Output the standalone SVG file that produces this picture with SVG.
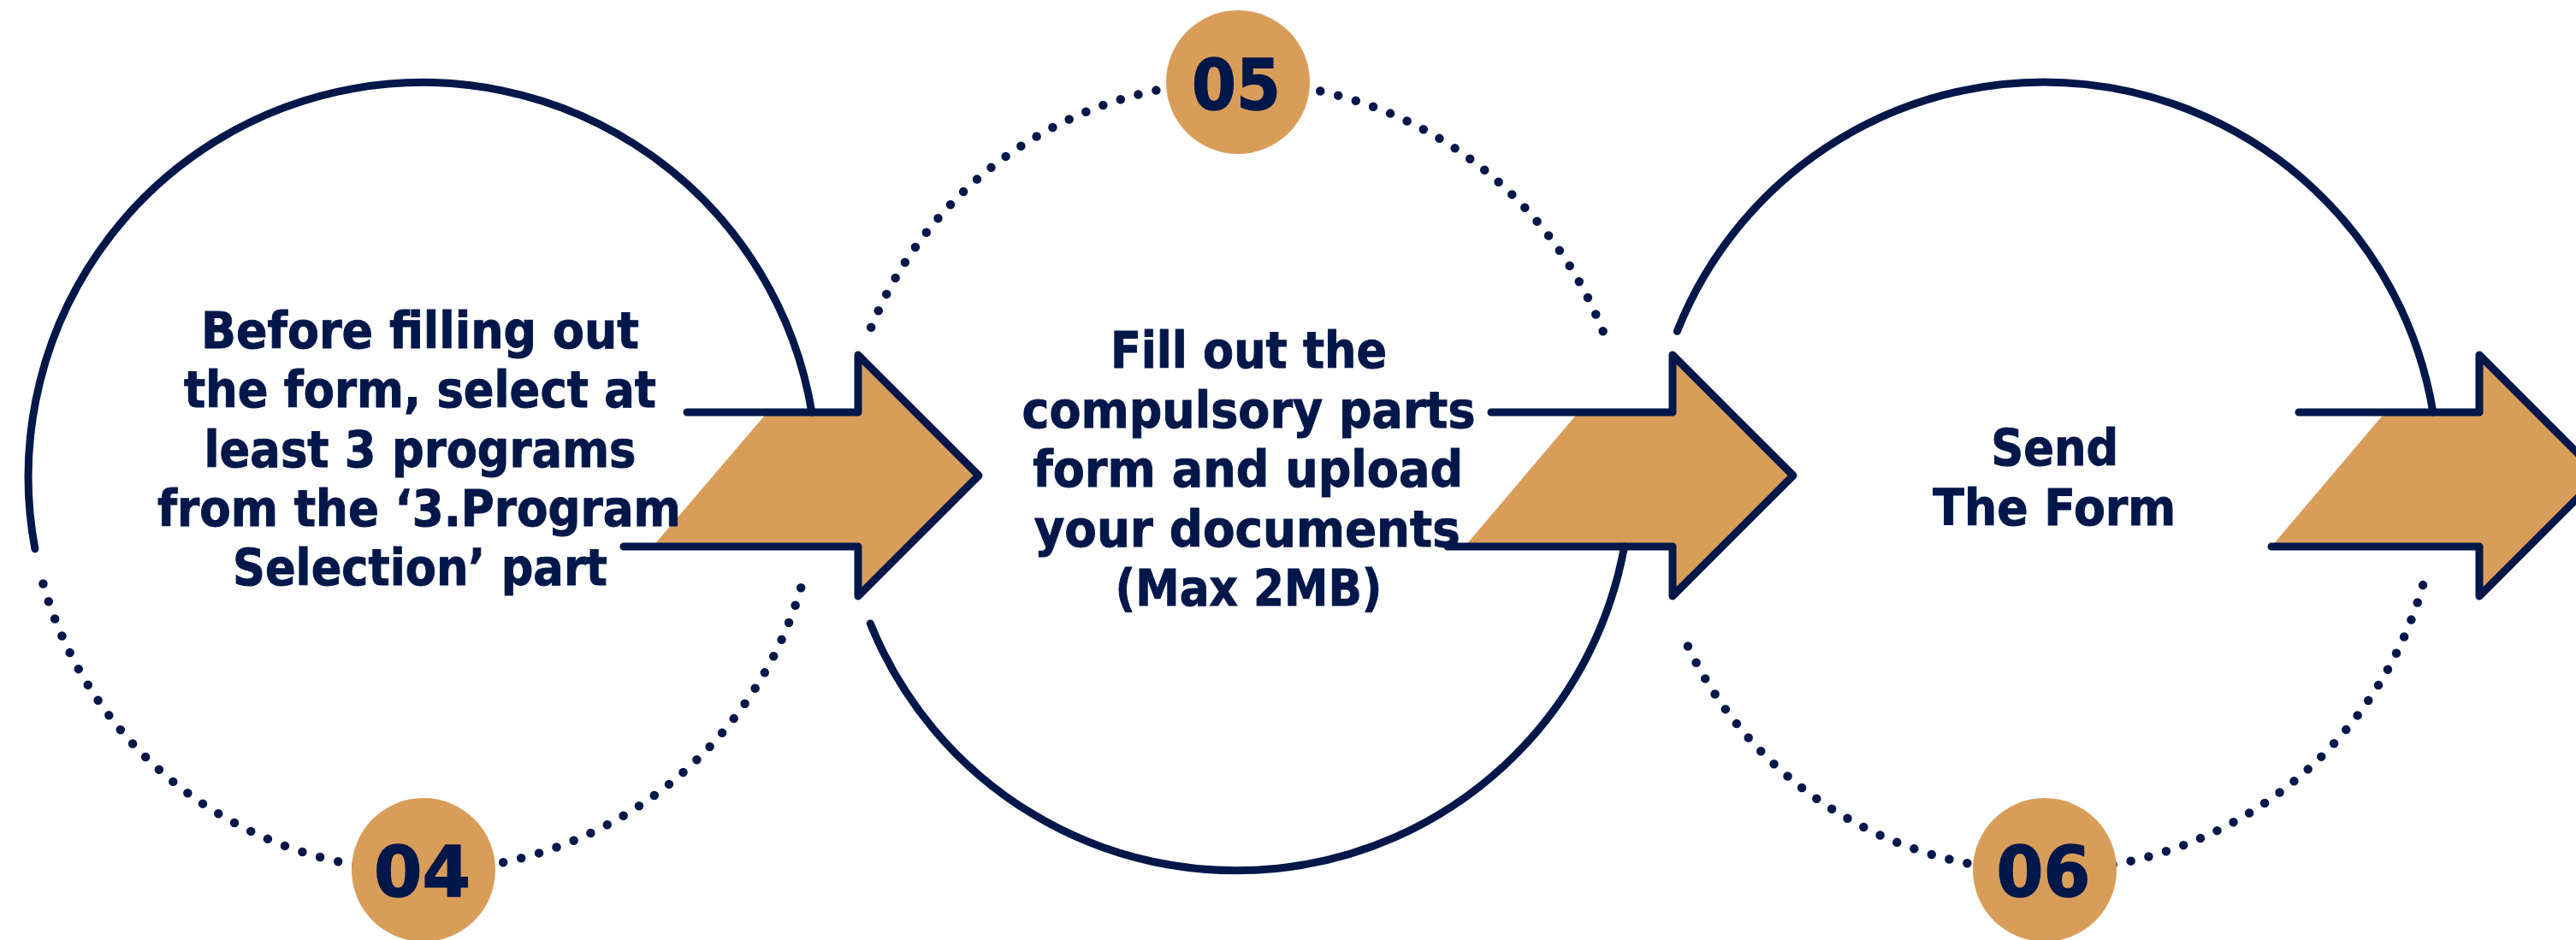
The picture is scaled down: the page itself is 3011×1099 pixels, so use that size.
<svg xmlns="http://www.w3.org/2000/svg" width="3011" height="1099" viewBox="0 0 3011 1099">
<style>
.solid{fill:none;stroke:#00174A;stroke-width:9;stroke-linecap:round}
.dots{fill:none;stroke:#00174A;stroke-width:10.5;stroke-linecap:round}
.afill{fill:#D99D5A;stroke:none}
.aline{fill:none;stroke:#00174A;stroke-width:9;stroke-linecap:round;stroke-linejoin:round}
.badge{fill:#D99D5A}
.num{font-family:"DejaVu Sans","Liberation Sans",sans-serif;font-weight:700;font-size:82px;fill:#00174A;stroke:#00174A;stroke-width:1.5;text-anchor:middle}
.txt{font-family:"DejaVu Sans","Liberation Sans",sans-serif;font-weight:700;font-size:58px;fill:#00174A;stroke:#00174A;stroke-width:1;text-anchor:middle}
</style>
<rect width="3011" height="1099" fill="#FFFFFF"/>
<g id="connectors">
  <polygon class="afill" points="897,482 1003,482 1003,415 1144,556 1003,697 1003,639 763,639"/>
  <polyline class="aline" points="803,482 1003,482 1003,415 1144,556 1003,697 1003,639 729,639"/>
  <polygon class="afill" points="1845,482 1955,482 1955,415 2096,556 1955,697 1955,639 1712,639"/>
  <polyline class="aline" points="1743,482 1955,482 1955,415 2096,556 1955,697 1955,639 1692,639"/>
  <polygon class="afill" points="2788,482 2898,482 2898,415 3039,556 2898,697 2898,639 2655,639"/>
  <polyline class="aline" points="2687,482 2898,482 2898,415 3039,556 2898,697 2898,639 2655,639"/>
</g>
<g id="step04">
  <path class="solid" d="M40.9,641.8 A461,461 0 1 1 948.9,482"/>
  <path class="dots" stroke-dasharray="0 21.61" d="M936.2,687.2 A461,461 0 0 1 45.2,662.3"/>
  <circle class="badge" cx="495" cy="1017" r="84"/>
  <text class="num" x="493.5" y="1048" textLength="113" lengthAdjust="spacingAndGlyphs">04</text>
  <text class="txt" x="491" y="407" textLength="512" lengthAdjust="spacingAndGlyphs">Before filling out</text>
  <text class="txt" x="491" y="476.3" textLength="552" lengthAdjust="spacingAndGlyphs">the form, select at</text>
  <text class="txt" x="491" y="545.6" textLength="505" lengthAdjust="spacingAndGlyphs">least 3 programs</text>
  <text class="txt" x="490" y="614.9" textLength="612" lengthAdjust="spacingAndGlyphs">from the ‘3.Program</text>
  <text class="txt" x="491" y="684.2" textLength="438" lengthAdjust="spacingAndGlyphs">Selection’ part</text>
</g>
<g id="step05">
  <path class="dots" stroke-dasharray="0 21.48" d="M1018.2,382.8 A461,461 0 0 1 1880.9,406.9"/>
  <path class="solid" d="M1898.6,639 A461,461 0 0 1 1017.3,728.9"/>
  <circle class="badge" cx="1447" cy="96" r="84"/>
  <text class="num" x="1445" y="128" textLength="104" lengthAdjust="spacingAndGlyphs">05</text>
  <text class="txt" x="1459.5" y="430" textLength="323" lengthAdjust="spacingAndGlyphs">Fill out the</text>
  <text class="txt" x="1459.5" y="499.5" textLength="530" lengthAdjust="spacingAndGlyphs">compulsory parts</text>
  <text class="txt" x="1458.7" y="569" textLength="503" lengthAdjust="spacingAndGlyphs">form and upload</text>
  <text class="txt" x="1457.7" y="638.5" textLength="498" lengthAdjust="spacingAndGlyphs">your documents</text>
  <text class="txt" x="1459.5" y="708" textLength="312" lengthAdjust="spacingAndGlyphs">(Max 2MB)</text>
</g>
<g id="step06">
  <path class="solid" d="M1960.4,387.3 A461,461 0 0 1 2843.9,482"/>
  <path class="dots" stroke-dasharray="0 21.42" d="M2832.1,684.1 A461,461 0 0 1 1964.3,736.4"/>
  <circle class="badge" cx="2390" cy="1017" r="84"/>
  <text class="num" x="2388.5" y="1048" textLength="110" lengthAdjust="spacingAndGlyphs">06</text>
  <text class="txt" x="2401.7" y="544.2" textLength="149" lengthAdjust="spacingAndGlyphs">Send</text>
  <text class="txt" x="2401.3" y="613.6" textLength="284" lengthAdjust="spacingAndGlyphs">The Form</text>
</g>
</svg>
